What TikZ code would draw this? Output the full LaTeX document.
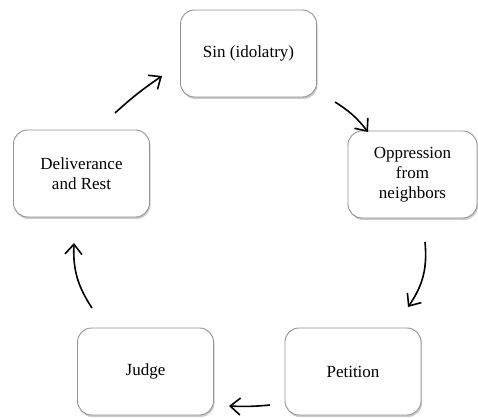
\documentclass[tikz,border=0pt]{standalone}
\usepackage{fontspec}
\setmainfont{Liberation Serif}
\usetikzlibrary{shadows,arrows.meta}

\begin{document}
\begin{tikzpicture}[x=1pt, y=1pt,
      stage/.style={draw=gray!85, line width=0.9pt, fill=white, rounded corners=14pt,
         minimum width=136pt, minimum height=87pt, align=center,
         font=\fontsize{17}{20}\selectfont,
         drop shadow={opacity=0.4, shadow xshift=1pt, shadow yshift=-2pt}},
      >={Straight Barb[length=10pt, width=17pt, line width=1.6pt]}]

      \useasboundingbox (0,0) rectangle (478,417);

      \node [stage] (sin) at (248.5, 363.5) {Sin (idolatry)};
      \node [stage, minimum width=129pt] (opp) at (412.5, 242.5) {Oppression\\from\\neighbors};
      \node [stage] (pet) at (353, 45.5) {Petition};
      \node [stage] (judge) at (145.5, 45.5) {Judge};
      \node [stage] (del) at (81.5, 243.5) {Deliverance\\and Rest};

      \coordinate (a1) at (335, 315);  \coordinate (b1) at (368, 285);
      \coordinate (a2) at (425, 175);  \coordinate (b2) at (408, 110);
      \coordinate (a3) at (270, 12);   \coordinate (b3) at (229, 11);
      \coordinate (a4) at (92, 109);   \coordinate (b4) at (74, 174);
      \coordinate (a5) at (115, 304);  \coordinate (b5) at (162, 341);

      \draw [line width=1.6pt, ->] (a1) to [bend left=10] (b1);
      \draw [line width=1.6pt, ->] (a2) to [bend left=20] (b2);
      \draw [line width=1.6pt, ->] (a3) to [bend left=4] (b3);
      \draw [line width=1.6pt, ->] (a4) to [bend left=18] (b4);
      \draw [line width=1.6pt, ->] (a5) to [bend left=4] (b5);

   \end{tikzpicture}
\end{document}
